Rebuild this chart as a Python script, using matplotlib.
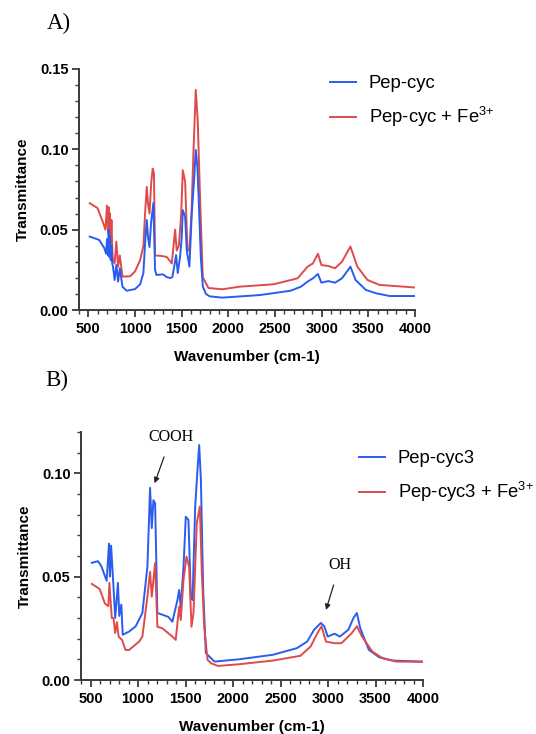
import matplotlib
matplotlib.use("Agg")
import matplotlib.pyplot as plt
from matplotlib.ticker import MultipleLocator

plt.rcParams['font.family'] = ['Liberation Sans', 'DejaVu Sans']
plt.rcParams['mathtext.default'] = 'regular'

# ---- Panel A data: Pep-cyc ----
a_blue_x = [515, 617, 672, 690, 700, 712, 718, 725, 732, 740, 748, 756, 764, 782, 800, 819, 837, 866, 910, 1000,
            1055, 1090, 1108, 1126, 1140, 1155, 1172, 1197, 1215, 1230, 1300, 1340, 1376, 1400, 1419, 1440, 1458,
            1483, 1500, 1512, 1537, 1555, 1583, 1608, 1633, 1651, 1669, 1687, 1705, 1727, 1760, 1800, 1935, 2338,
            2668, 2777, 2850, 2906, 2960, 2997, 3070, 3144, 3217, 3272, 3308, 3363, 3473, 3583, 3729, 4000]
a_blue_y = [0.0457, 0.0436, 0.0384, 0.0350, 0.0440, 0.0340, 0.0500, 0.0330, 0.0460, 0.0310, 0.0400, 0.0290, 0.0270,
            0.0187, 0.0280, 0.0177, 0.0260, 0.0145, 0.0120, 0.0130,
            0.0160, 0.0230, 0.0417, 0.0560, 0.0450, 0.0392, 0.0540, 0.0666, 0.0249, 0.0218, 0.0222, 0.0205, 0.0199,
            0.0205, 0.0267, 0.0342, 0.0230, 0.0330, 0.0450, 0.0622, 0.0580, 0.0370, 0.0270, 0.0600, 0.0810, 0.0996,
            0.0890, 0.0620, 0.0330, 0.0145, 0.0100, 0.0085, 0.0077, 0.0093, 0.0120, 0.0145, 0.0177, 0.0197, 0.0224,
            0.0170, 0.0180, 0.0170, 0.0197, 0.0240, 0.0270, 0.0187, 0.0125, 0.0104, 0.0087, 0.0087]

# ---- Panel A data: Pep-cyc + Fe3+ ----
a_red_x = [515, 599, 654, 683, 700, 712, 718, 725, 732, 740, 748, 756, 764, 782, 800, 819, 837, 866, 948, 1000,
           1055, 1090, 1108, 1126, 1140, 1155, 1175, 1190, 1203, 1215, 1300, 1340, 1394, 1430, 1447, 1470, 1495,
           1512, 1537, 1562, 1583, 1605, 1626, 1651, 1672, 1697, 1726, 1787, 1935, 2118, 2484, 2741, 2850, 2906,
           2960, 2997, 3070, 3144, 3217, 3308, 3382, 3491, 3620, 3766, 4000]
a_red_y = [0.0665, 0.0634, 0.0550, 0.0500, 0.0650, 0.0480, 0.0640, 0.0460, 0.0600, 0.0420, 0.0560, 0.0380, 0.0310,
           0.0290, 0.0426, 0.0270, 0.0340, 0.0208, 0.0210, 0.0240,
           0.0310, 0.0400, 0.0600, 0.0766, 0.0660, 0.0600, 0.0800, 0.0880, 0.0850, 0.0340, 0.0335, 0.0330, 0.0290,
           0.0500, 0.0370, 0.0400, 0.0600, 0.0870, 0.0800, 0.0370, 0.0370, 0.0600, 0.0977, 0.1370, 0.1180, 0.0700,
           0.0205, 0.0137, 0.0129, 0.0145, 0.0160, 0.0197, 0.0270, 0.0290, 0.0350, 0.0280, 0.0274, 0.0260, 0.0300,
           0.0395, 0.0270, 0.0187, 0.0156, 0.0150, 0.0140]

# ---- Panel B data: Pep-cyc3 ----
b_blue_x = [514, 579, 615, 670, 695, 705, 717, 742, 760, 789, 803, 825, 839, 905, 976, 1046, 1099, 1127, 1145,
            1162, 1180, 1204, 1257, 1320, 1362, 1415, 1433, 1450, 1479, 1503, 1531, 1556, 1574, 1602, 1626, 1644,
            1662, 1686, 1714, 1752, 1806, 2059, 2420, 2672, 2781, 2853, 2925, 2961, 2997, 3070, 3124, 3214, 3268,
            3304, 3340, 3430, 3539, 3683, 4000]
b_blue_y = [0.0567, 0.0575, 0.0550, 0.0480, 0.0660, 0.0500, 0.0650, 0.0450, 0.0300, 0.0470, 0.0310, 0.0365, 0.0219,
            0.0234, 0.0260, 0.0324, 0.0548, 0.0930, 0.0735,
            0.0870, 0.0855, 0.0324, 0.0316, 0.0305, 0.0282, 0.0387, 0.0436, 0.0350, 0.0548, 0.0790, 0.0774, 0.0403,
            0.0387, 0.0839, 0.1016, 0.1137, 0.0970, 0.0436, 0.0130, 0.0113, 0.0089, 0.0100, 0.0122, 0.0154, 0.0186,
            0.0243, 0.0276, 0.0260, 0.0210, 0.0224, 0.0210, 0.0243, 0.0300, 0.0324, 0.0250, 0.0146, 0.0110, 0.0094,
            0.0089]

# ---- Panel B data: Pep-cyc3 + Fe3+ ----
b_red_x = [514, 597, 652, 688, 699, 724, 742, 760, 778, 796, 832, 868, 905, 1012, 1046, 1099, 1127, 1145, 1180,
           1204, 1257, 1362, 1397, 1433, 1450, 1479, 1510, 1538, 1563, 1584, 1619, 1651, 1672, 1697, 1732, 1770,
           1842, 2059, 2420, 2709, 2817, 2889, 2932, 2979, 3070, 3142, 3250, 3304, 3358, 3466, 3575, 3719, 4000]
b_red_y = [0.0465, 0.0440, 0.0370, 0.0357, 0.0470, 0.0300, 0.0300, 0.0227, 0.0280, 0.0210, 0.0194, 0.0146, 0.0145,
           0.0186, 0.0210, 0.0403, 0.0524, 0.0403, 0.0566,
           0.0258, 0.0250, 0.0210, 0.0194, 0.0355, 0.0290, 0.0484, 0.0597, 0.0548, 0.0258, 0.0324, 0.0760, 0.0839,
           0.0516, 0.0258, 0.0097, 0.0081, 0.0068, 0.0076, 0.0094, 0.0117, 0.0162, 0.0227, 0.0260, 0.0186, 0.0178,
           0.0178, 0.0227, 0.0260, 0.0210, 0.0138, 0.0105, 0.0089, 0.0088]

labels_a = ["Pep-cyc", "Pep-cyc + Fe$^{3{+}}$"]
labels_b = ["Pep-cyc3", "Pep-cyc3 + Fe$^{3{+}}$"]
xticks = [500, 1000, 1500, 2000, 2500, 3000, 3500, 4000]

BLUE = "#2a5cf0"
RED = "#e04a4a"
SPINE = "#3a3a3a"

W, H = 536, 734
fig = plt.figure(figsize=(W / 100, H / 100), dpi=100)


def style_axes(ax, ylim, yticks):
    ax.set_xlim(400, 4000)
    ax.set_ylim(*ylim)
    ax.set_xticks(xticks)
    ax.set_yticks(yticks)
    ax.set_yticklabels([f"{v:.2f}" for v in yticks])
    ax.xaxis.set_minor_locator(MultipleLocator(100))
    ax.yaxis.set_minor_locator(MultipleLocator(0.01))
    for s in ("top", "right"):
        ax.spines[s].set_visible(False)
    for s in ("left", "bottom"):
        ax.spines[s].set_linewidth(1.4)
        ax.spines[s].set_color(SPINE)
    ax.tick_params(which="major", direction="out", length=5, width=1.3, color=SPINE, labelsize=10.5)
    ax.tick_params(axis="x", which="major", pad=3.5)
    ax.tick_params(axis="y", which="major", pad=2.5)
    ax.tick_params(which="minor", direction="out", length=3, width=1.0, color=SPINE)
    for lab in ax.get_xticklabels() + ax.get_yticklabels():
        lab.set_fontweight("bold")
    ax.set_xlabel("Wavenumber (cm-1)", fontsize=11, fontweight="bold", labelpad=10)
    ax.set_ylabel("Transmittance", fontsize=11, fontweight="bold", labelpad=7)


# Panel A
axA = fig.add_axes([79 / W, 1 - 310 / H, (415 - 79) / W, (310 - 69) / H])
lA1, = axA.plot(a_blue_x, a_blue_y, color=BLUE, lw=1.4, zorder=3)
lA2, = axA.plot(a_red_x, a_red_y, color=RED, lw=1.4, zorder=2)
style_axes(axA, (0, 0.15), [0.00, 0.05, 0.10, 0.15])
fig.legend([lA1, lA2], labels_a, loc="upper left", bbox_to_anchor=(330 / W, 1 - 75 / H),
           frameon=False, fontsize=13.3, handlelength=1.4, handletextpad=0.7, labelspacing=0.7,
           borderpad=0, borderaxespad=0)
fig.text(47 / W, 1 - 23 / H, "A)", fontsize=16.5, family="Liberation Serif", va="center", ha="left")

# Panel B
axB = fig.add_axes([81 / W, 1 - 680 / H, (423 - 81) / W, (680 - 432) / H])
lB1, = axB.plot(b_blue_x, b_blue_y, color=BLUE, lw=1.4, zorder=2)
lB2, = axB.plot(b_red_x, b_red_y, color=RED, lw=1.4, zorder=3)
style_axes(axB, (0, 0.12), [0.00, 0.05, 0.10])
fig.legend([lB1, lB2], labels_b, loc="upper left", bbox_to_anchor=(359 / W, 1 - 450 / H),
           frameon=False, fontsize=13.3, handlelength=1.4, handletextpad=0.7, labelspacing=0.7,
           borderpad=0, borderaxespad=0)
fig.text(45 / W, 1 - 380 / H, "B)", fontsize=16.5, family="Liberation Serif", va="center", ha="left")

axB.annotate("COOH", xy=(1175, 0.0952), xytext=(1349, 0.1176), ha="center", va="center",
             fontsize=11.5, family="Liberation Serif",
             arrowprops=dict(arrowstyle="-|>", color="#222222", lw=0.9, shrinkA=7, shrinkB=0,
                             mutation_scale=8))
axB.annotate("OH", xy=(2979, 0.0339), xytext=(3124, 0.0557), ha="center", va="center",
             fontsize=11.5, family="Liberation Serif",
             arrowprops=dict(arrowstyle="-|>", color="#222222", lw=0.9, shrinkA=7, shrinkB=0,
                             mutation_scale=8))

fig.savefig("out.png", dpi=100)
